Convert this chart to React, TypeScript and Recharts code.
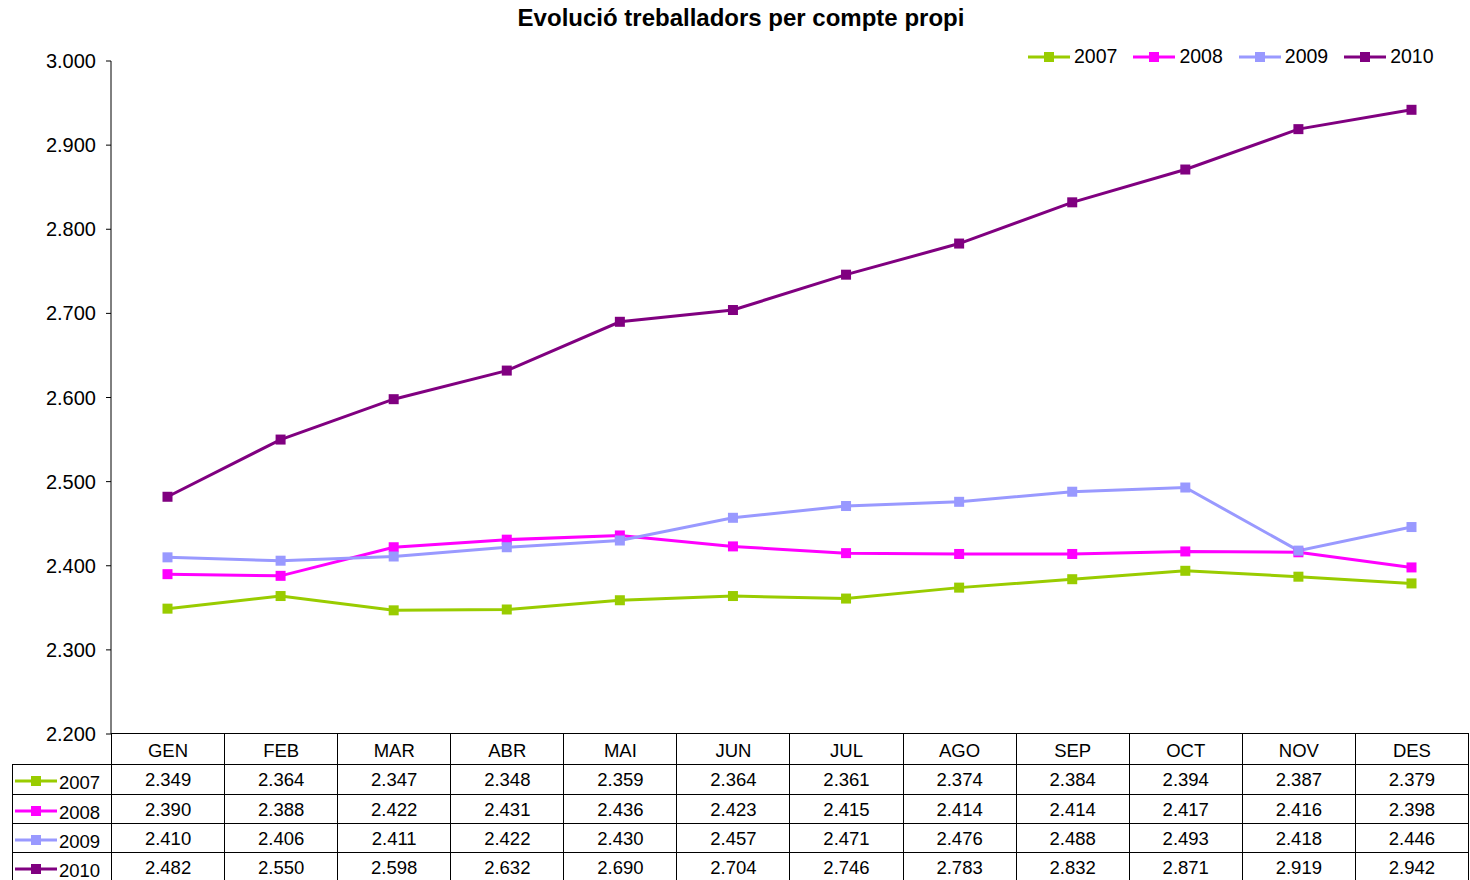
import React from 'react'
import { LineChart, Line, XAxis, YAxis } from 'recharts'

const FONT = 'Arial, "Liberation Sans", sans-serif'

const months = ['GEN', 'FEB', 'MAR', 'ABR', 'MAI', 'JUN', 'JUL', 'AGO', 'SEP', 'OCT', 'NOV', 'DES']
const years = ['2007', '2008', '2009', '2010']
const colors = ['#99CC00', '#FF00FF', '#9999FF', '#800080']

const v2007 = [2349, 2364, 2347, 2348, 2359, 2364, 2361, 2374, 2384, 2394, 2387, 2379]
const v2008 = [2390, 2388, 2422, 2431, 2436, 2423, 2415, 2414, 2414, 2417, 2416, 2398]
const v2009 = [2410, 2406, 2411, 2422, 2430, 2457, 2471, 2476, 2488, 2493, 2418, 2446]
const v2010 = [2482, 2550, 2598, 2632, 2690, 2704, 2746, 2783, 2832, 2871, 2919, 2942]

const yTicks = [2200, 2300, 2400, 2500, 2600, 2700, 2800, 2900, 3000]

const seriesValues = [v2007, v2008, v2009, v2010]

const data = months.map((mes, i) => ({
  mes,
  y2007: v2007[i],
  y2008: v2008[i],
  y2009: v2009[i],
  y2010: v2010[i],
}))

const fmt = (n: number) => String(n).replace(/\B(?=(\d{3})+(?!\d))/g, '.')

function squareDot(color: string) {
  return (props: any) => {
    const { cx, cy, index } = props
    if (cx == null || cy == null) return <g key={index} />
    return <rect key={index} x={cx - 5} y={cy - 5} width={10} height={10} fill={color} />
  }
}

function LegendIcon({ color }: { color: string }) {
  return (
    <svg width={42} height={12} style={{ display: 'inline-block', verticalAlign: 'middle' }}>
      <line x1={0} y1={6} x2={42} y2={6} stroke={color} strokeWidth={3} />
      <rect x={16} y={1} width={10} height={10} fill={color} />
    </svg>
  )
}

const cell: React.CSSProperties = {
  border: '1px solid #000',
  textAlign: 'center',
  padding: 0,
  fontSize: 18.5,
  lineHeight: '19px',
}

export default function App() {
  return (
    <div
      style={{
        position: 'absolute',
        left: 0,
        top: 0,
        width: 1470,
        height: 880,
        overflow: 'hidden',
        background: '#fff',
        fontFamily: FONT,
        color: '#000',
      }}
    >
      <div
        style={{
          position: 'absolute',
          top: 4,
          left: 0,
          width: 1482,
          textAlign: 'center',
          fontWeight: 'bold',
          fontSize: 24,
        }}
      >
        Evolució treballadors per compte propi
      </div>

      <div style={{ position: 'absolute', top: 45, left: 1028, display: 'flex', fontSize: 19.5 }}>
        {years.map((y, i) => (
          <div key={y} style={{ display: 'flex', alignItems: 'center', marginRight: 16 }}>
            <LegendIcon color={colors[i]} />
            <span style={{ marginLeft: 4 }}>{y}</span>
          </div>
        ))}
      </div>

      <LineChart
        width={1470}
        height={880}
        data={data}
        margin={{ top: 61, right: 2, bottom: 146, left: 11 }}
      >
        <XAxis
          dataKey="mes"
          hide
          scale="point"
          padding={{ left: 56.5, right: 56.5 }}
        />
        <YAxis
          width={100}
          domain={[2200, 3000]}
          ticks={yTicks}
          tickFormatter={fmt}
          axisLine={{ stroke: '#000' }}
          tickLine={{ stroke: '#000' }}
          tickSize={5}
          tickMargin={10}
          tick={{ fill: '#000', fontSize: 20, fontFamily: FONT }}
          interval={0}
        />
        {years.map((y, i) => (
          <Line
            key={y}
            dataKey={'y' + y}
            stroke={colors[i]}
            strokeWidth={3}
            dot={squareDot(colors[i])}
            activeDot={false}
            isAnimationActive={false}
          />
        ))}
      </LineChart>

      <table
        style={{
          position: 'absolute',
          left: 12,
          top: 733,
          borderCollapse: 'collapse',
          tableLayout: 'fixed',
          width: 1456,
          fontFamily: FONT,
        }}
      >
        <colgroup>
          <col style={{ width: 99 }} />
          {months.map((m) => (
            <col key={m} style={{ width: 1357 / 12 }} />
          ))}
        </colgroup>
        <tbody>
          <tr style={{ height: 31 }}>
            <td style={{ ...cell, borderTop: 'none', borderLeft: 'none' }} />
            {months.map((m) => (
              <td key={m} style={{ ...cell, paddingTop: 2 }}>
                {m}
              </td>
            ))}
          </tr>
          {years.map((y, i) => (
            <tr key={y} style={{ height: i === 0 ? 30 : 29 }}>
              <td style={{ ...cell, textAlign: 'left', paddingLeft: 2, whiteSpace: 'nowrap' }}>
                <LegendIcon color={colors[i]} />
                <span style={{ position: 'relative', top: 3, marginLeft: 2 }}>{y}</span>
              </td>
              {seriesValues[i].map((v, j) => (
                <td key={j} style={cell}>
                  {fmt(v)}
                </td>
              ))}
            </tr>
          ))}
        </tbody>
      </table>
    </div>
  )
}
